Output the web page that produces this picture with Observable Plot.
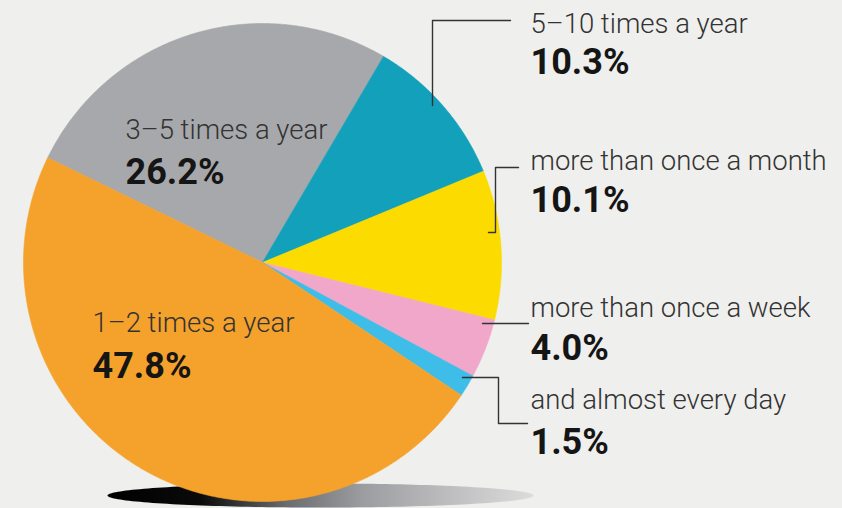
<!DOCTYPE html>
<html><head><meta charset="utf-8">
<script src="https://cdn.jsdelivr.net/npm/d3@7"></script>
<script src="https://cdn.jsdelivr.net/npm/@observablehq/plot@0.6"></script>
<style>html,body{margin:0;padding:0;background:#efefed;overflow:hidden}</style>
</head><body><div id="chart"></div>
<script>
// ---- data ----
const categories = ["3–5 times a year", "5–10 times a year", "more than once a month", "more than once a week", "and almost every day", "1–2 times a year"];
const shares = [26.2, 10.3, 10.1, 4.0, 1.5, 47.8];
const pctLabels = ["26.2%", "10.3%", "10.1%", "4.0%", "1.5%", "47.8%"];

// ---- style / layout ----
const colors = ["#a7a8ab", "#13a0ba", "#fcdc00", "#f1a7c9", "#3dbde8", "#f5a22c"];
const W = 842, H = 508, CX = 262, CY = 262, R = 239, START = -64;
const labelPos = [
  {x: 125, nameY: 138, pctY: 183},
  {x: 530, nameY: 32, pctY: 73},
  {x: 530, nameY: 169, pctY: 211},
  {x: 530, nameY: 316, pctY: 359},
  {x: 530, nameY: 408, pctY: 453},
  {x: 92, nameY: 331, pctY: 377}
];
const leaders = [
  {i: 1, pts: [[432, 105], [432, 20], [510, 20]]},
  {i: 2, pts: [[488, 232], [495, 232], [495, 167], [518, 167]]},
  {i: 3, pts: [[482, 323], [528, 323]]},
  {i: 4, pts: [[462, 377], [498, 377], [498, 423], [527, 423]]}
];
const shadow = {cx: 320, cy: 495, rx: 213, ry: 12};

// ---- geometry derived from data ----
const s0 = START * Math.PI / 180;
const arcs = d3.pie().sort(null).value(d => d).startAngle(s0).endAngle(s0 + 2 * Math.PI)(shares);
const slices = arcs.map((a, i) => {
  const pts = [{x: CX, y: CY}];
  const n = Math.max(6, Math.ceil((a.endAngle - a.startAngle) / (Math.PI / 360)));
  for (let k = 0; k <= n; k++) {
    const t = a.startAngle + (a.endAngle - a.startAngle) * k / n;
    pts.push({x: CX + R * Math.sin(t), y: CY - R * Math.cos(t)});
  }
  pts.push({x: CX, y: CY});
  return pts;
});
const shadowPts = d3.range(0, 361, 2).map(a => ({
  x: shadow.cx + shadow.rx * Math.cos(a * Math.PI / 180),
  y: shadow.cy + shadow.ry * Math.sin(a * Math.PI / 180)
}));

const nameRows = categories.map((c, i) => ({x: labelPos[i].x, y: labelPos[i].nameY, text: c}));
const pctRows = pctLabels.map((p, i) => ({x: labelPos[i].x, y: labelPos[i].pctY, text: p}));
const leaderRows = leaders.flatMap(l => l.pts.map(p => ({id: l.i, x: p[0], y: p[1]})));

const plot = Plot.plot({
  width: W, height: H,
  margin: 0,
  x: {domain: [0, W], range: [0, W], axis: null},
  y: {domain: [0, H], range: [0, H], axis: null},
  style: {background: "#efefed", fontFamily: "Roboto, 'Open Sans', sans-serif"},
  marks: [
    Plot.line(shadowPts, {x: "x", y: "y", fill: "url(#shadowGrad)", stroke: "none"}),
    ...slices.map((pts, i) => Plot.line(pts, {x: "x", y: "y", fill: colors[i], stroke: colors[i], strokeWidth: 0.6})),
    Plot.line(leaderRows, {x: "x", y: "y", z: "id", stroke: "#333", strokeWidth: 1.4}),
    Plot.text(nameRows, {x: "x", y: "y", text: "text", textAnchor: "start", lineAnchor: "bottom", fontSize: 27.5, fontWeight: 300, fill: "#333"}),
    Plot.text(pctRows, {x: "x", y: "y", text: "text", textAnchor: "start", lineAnchor: "bottom", fontSize: 36, fontWeight: "bold", fill: "#151515"})
  ]
});

const svg = d3.select(plot);
const grad = svg.insert("defs", ":first-child").append("linearGradient")
  .attr("id", "shadowGrad").attr("gradientUnits", "userSpaceOnUse")
  .attr("x1", shadow.cx - shadow.rx).attr("x2", shadow.cx + shadow.rx).attr("y1", 0).attr("y2", 0);
[[0, "#000"], [0.22, "#0a0a0a"], [0.42, "#6a6c70"], [0.6, "#9c9da0"], [0.8, "#bdbdbf"], [1, "#dcdcdc"]]
  .forEach(([o, c]) => grad.append("stop").attr("offset", o).attr("stop-color", c));

document.getElementById("chart").append(plot);
</script>
</body></html>
